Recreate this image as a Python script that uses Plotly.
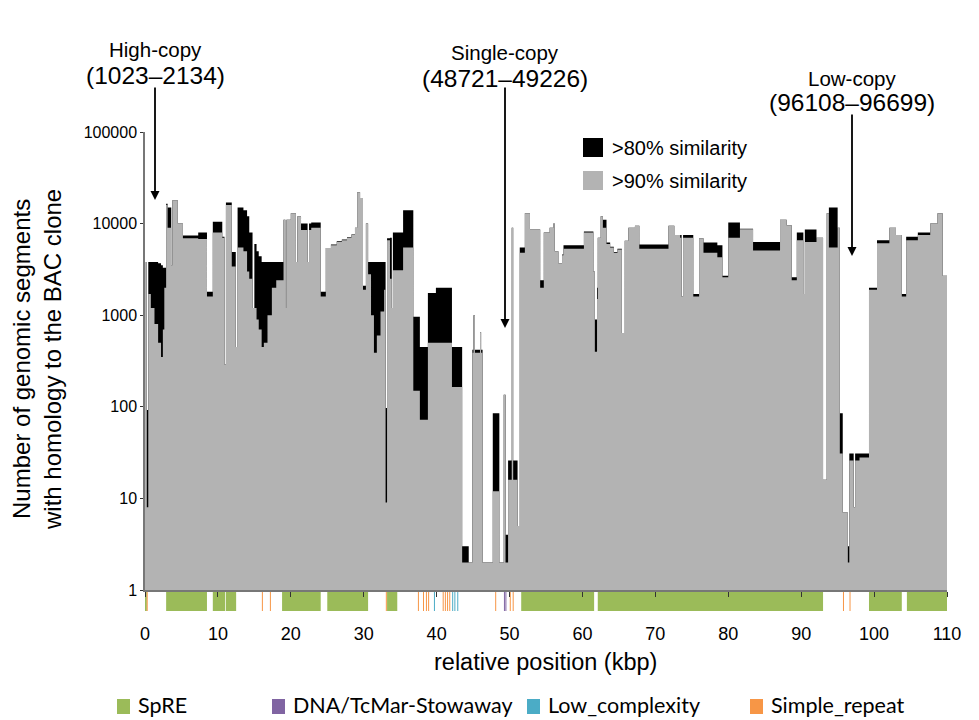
import plotly.graph_objects as go

# ---------------- data ----------------
# start of each step segment (kbp); each segment lasts until the next start
seg_start_kbp = [
    0.0, 0.25, 0.45, 0.8, 1.3, 1.8, 2.2, 2.45, 2.65, 2.9,
    3.1, 3.6, 3.75, 4.5, 5.2, 7.3, 8.5, 9.3, 10.6, 10.9,
    11.1, 11.9, 12.45, 12.7, 13.5, 14.0, 14.3, 14.75, 15.0, 15.3,
    15.6, 16.0, 16.3, 16.8, 17.4, 18.0, 19.0, 19.25, 19.4, 20.0,
    20.7, 20.9, 21.4, 22.3, 22.5, 22.8, 24.1, 24.8, 25.5, 26.3,
    27.0, 27.7, 28.3, 28.8, 29.1, 29.5, 29.9, 30.3, 30.6, 31.0,
    31.4, 31.8, 32.3, 32.8, 33.0, 33.2, 33.6, 33.85, 34.0, 35.4,
    36.8, 37.7, 38.8, 39.9, 42.1, 43.5, 44.4, 44.9, 45.05, 45.25,
    45.95, 46.1, 46.3, 47.7, 48.6, 49.2, 49.45, 49.8, 50.3, 50.5,
    51.1, 51.4, 52.1, 52.8, 54.2, 54.7, 55.5, 56.0, 56.2, 56.7,
    57.2, 57.4, 60.2, 61.5, 61.7, 62.0, 62.1, 62.5, 62.8, 63.3,
    63.8, 64.3, 64.8, 65.4, 65.8, 66.3, 67.2, 67.8, 71.8, 72.6,
    73.4, 73.6, 73.8, 75.2, 76.0, 76.6, 78.5, 79.2, 80.0, 81.6,
    83.4, 87.1, 88.0, 88.7, 89.4, 90.3, 90.5, 92.1, 93.0, 93.5,
    93.8, 95.0, 95.3, 95.7, 96.4, 96.6, 97.2, 97.4, 98.0, 99.3,
    100.4, 102.1, 103.0, 103.8, 104.4, 106.0, 107.7, 108.7, 109.4, 110.0,
]
# number of segments with >90% similarity
gray_90 = [
    3800, 8, 1700, 1200, 800, 500, 350, 700, 2000, 16000,
    9000, 3500, 18000, 10000, 6900, 6800, 1600, 8000, 7000, 290,
    16000, 3400, 450, 5500, 5000, 3000, 2500, 1200, 1200, 900,
    700, 450, 500, 1000, 2000, 2400, 11000, 1200, 11000, 13000,
    3800, 12000, 8500, 3800, 8500, 9000, 1600, 5400, 5800, 6300,
    6600, 7000, 7500, 9000, 22000, 19000, 1900, 10000, 2800, 1000,
    390, 600, 1100, 1900, 9, 6600, 2500, 1200, 3100, 5500,
    150, 72, 500, 500, 165, 2, 2, 390, 1000, 390,
    650, 390, 2, 12, 2, 135, 2, 16, 9000, 16,
    5, 4800, 13000, 8600, 2000, 8000, 9000, 10000, 5000, 3700,
    4500, 5300, 8000, 3000, 400, 1500, 7000, 12000, 9000, 6000,
    5500, 4800, 5200, 640, 6500, 9000, 9500, 5300, 9500, 7500,
    7000, 1600, 7000, 1600, 6900, 4800, 4300, 2600, 7000, 8700,
    5100, 11000, 9600, 2400, 6600, 1700, 6300, 7000, 16, 13000,
    5500, 9000, 31, 7, 2, 26, 8, 26, 28, 1900,
    6100, 9000, 7500, 1600, 6600, 7500, 10000, 13000, 2700, 2700,
]
# number of segments with >80% similarity
black_80 = [
    3800, 92, 3800, 3800, 3800, 3700, 3500, 3300, 3300, 16500,
    15000, 3500, 18000, 10000, 7400, 8000, 1800, 10500, 7200, 290,
    17000, 4900, 450, 15000, 14000, 12000, 8000, 1200, 6000, 5000,
    4400, 3800, 3800, 3800, 3800, 3800, 11000, 1200, 11000, 13000,
    3800, 12000, 10000, 3800, 10000, 10300, 1800, 5400, 5900, 6400,
    6700, 7100, 7600, 9000, 22000, 19000, 2100, 10000, 3800, 3800,
    3800, 3800, 3800, 3800, 97, 6900, 7000, 1200, 8000, 14000,
    960, 450, 1750, 2000, 450, 3, 2, 420, 1000, 420,
    650, 420, 2, 85, 2, 135, 4, 26, 9000, 26,
    5, 5500, 13000, 8600, 2400, 8000, 9000, 10000, 5000, 3700,
    4600, 5800, 8200, 3000, 900, 2000, 7000, 12000, 11000, 6200,
    5600, 4900, 5300, 640, 6500, 9000, 9500, 5900, 9500, 7500,
    7500, 1600, 7500, 1700, 6900, 6200, 5800, 2700, 10300, 8800,
    6300, 11000, 9600, 2600, 8000, 1700, 8600, 7000, 16, 13000,
    15000, 9000, 85, 7, 3, 31, 8, 31, 31, 2000,
    6600, 9000, 7500, 1700, 7200, 8000, 10000, 13000, 2700, 2700,
]

# repeat annotation track (kbp)
spre_start = [0.0, 2.9, 9.3, 11.1, 18.8, 25.0, 33.2, 51.6, 62.1, 99.3, 104.5]
spre_end = [0.25, 8.5, 11.0, 12.5, 24.1, 30.6, 34.6, 61.6, 93.0, 103.8, 110.0]
simple_repeat_pos = [0.3, 16.1, 17.2, 33.1, 37.5, 38.2, 38.6, 38.9, 40.9, 41.2,
                     41.5, 41.8, 48.1, 50.1, 50.5, 95.8, 96.7]
low_complexity_pos = [39.7, 42.2, 42.5, 42.9]
stowaway_pos = [49.3, 49.5]

x_ticks = [0, 10, 20, 30, 40, 50, 60, 70, 80, 90, 100, 110]
y_ticks = [1, 10, 100, 1000, 10000, 100000]
y_tick_text = ["1", "10", "100", "1000", "10000", "100000"]

track_legend = ["SpRE", "DNA/TcMar-Stowaway", "Low_complexity", "Simple_repeat"]
track_colors = ["#9BBB59", "#8064A2", "#4BACC6", "#F79646"]

callout_names = ["High-copy", "Single-copy", "Low-copy"]
callout_ranges = ["(1023–2134)", "(48721–49226)", "(96108–96699)"]

# ---------------- figure ----------------
FONT = "Arial, Liberation Sans, sans-serif"
GRAY = "#b3b3b3"
OFF = 8  # page body margin of the html page

fig = go.Figure()
base = dict(x=[0, 110], y=[1, 1], mode="lines", line=dict(width=0),
            showlegend=False, hoverinfo="skip")
fig.add_trace(go.Scatter(**base))
fig.add_trace(go.Scatter(x=seg_start_kbp, y=black_80, mode="lines",
                         line=dict(width=0, shape="hv", color="black"),
                         fill="tonexty", fillcolor="black",
                         showlegend=False, hoverinfo="skip"))
fig.add_trace(go.Scatter(**base))
fig.add_trace(go.Scatter(x=seg_start_kbp, y=gray_90, mode="lines",
                         line=dict(width=0, shape="hv", color=GRAY),
                         fill="tonexty", fillcolor=GRAY,
                         showlegend=False, hoverinfo="skip"))

# plot area geometry (screen px) for paper conversions
L, R, T, B = 145, 947, 132, 590
PW, PH = R - L, B - T
W, H = 979 - OFF, 720 - OFF


def py(p):
    return (B - p) / PH


def px(p):
    return (p - L) / PW


shapes = []
ty0, ty1 = py(611), py(591)
for s, e in zip(spre_start, spre_end):
    shapes.append(dict(type="rect", xref="x", yref="paper", x0=s, x1=e, y0=ty0, y1=ty1,
                       fillcolor=track_colors[0], line=dict(width=0), layer="below"))
for plist, col in ((stowaway_pos, track_colors[1]), (low_complexity_pos, track_colors[2]),
                   (simple_repeat_pos, track_colors[3])):
    for p in plist:
        shapes.append(dict(type="line", xref="x", yref="paper", x0=p, x1=p, y0=ty0, y1=ty1,
                           line=dict(color=col, width=1), layer="below"))

annotations = []
# top similarity legend
for i, (lab, col) in enumerate(((">80% similarity", "black"), (">90% similarity", GRAY))):
    y0 = 138 + i * 33
    shapes.append(dict(type="rect", xref="paper", yref="paper", x0=px(583), x1=px(603),
                       y0=py(y0 + 19), y1=py(y0), fillcolor=col, line=dict(width=0)))
    annotations.append(dict(xref="paper", yref="paper", x=px(610), y=py(y0 + 10),
                            xanchor="left", yanchor="middle", showarrow=False,
                            text=lab, font=dict(family=FONT, size=20, color="black")))

# bottom repeat legend
leg_x = [117, 272, 527, 750]
for lab, col, lx in zip(track_legend, track_colors, leg_x):
    shapes.append(dict(type="rect", xref="paper", yref="paper", x0=px(lx), x1=px(lx + 13),
                       y0=py(714), y1=py(699), fillcolor=col, line=dict(width=0)))
    annotations.append(dict(xref="paper", yref="paper", x=px(lx + 19), y=py(705),
                            xanchor="left", yanchor="middle", showarrow=False,
                            text=lab, font=dict(family="Lato, Open Sans, sans-serif", size=21.5,
                                                color="black")))

# callouts with arrows: (center x, name y, range y, arrow tail y, arrow tip y)
call_geom = [(155, 50, 76, 86, 200), (505, 52, 78, 86, 328), (852, 78, 103, 113, 256)]
for name, rng, (cx, ny, ry, tail, tip) in zip(callout_names, callout_ranges, call_geom):
    annotations.append(dict(xref="paper", yref="paper", x=px(cx), y=py(ny),
                            xanchor="center", yanchor="middle", showarrow=False,
                            text=name, font=dict(family=FONT, size=20.5, color="black")))
    annotations.append(dict(xref="paper", yref="paper", x=px(cx), y=py(ry),
                            xanchor="center", yanchor="middle", showarrow=False,
                            text=rng, font=dict(family=FONT, size=24.5, color="black")))
    annotations.append(dict(xref="paper", yref="paper", x=px(cx), y=py(tip),
                            ax=0, ay=-(tip - tail), showarrow=True, arrowhead=2,
                            arrowsize=1, arrowwidth=1.8, arrowcolor="black", text=""))

# axis titles
annotations.append(dict(xref="paper", yref="paper", x=px(545), y=py(662),
                        xanchor="center", yanchor="middle", showarrow=False,
                        text="relative position (kbp)",
                        font=dict(family=FONT, size=23.5, color="black")))
annotations.append(dict(xref="paper", yref="paper", x=px(37), y=py(360),
                        xanchor="center", yanchor="middle", showarrow=False, textangle=-90,
                        text="Number of genomic segments<br>with homology to the BAC clone",
                        font=dict(family=FONT, size=24, color="black")))

fig.update_layout(
    width=W, height=H,
    margin=dict(l=L - OFF, r=979 - R, t=T - OFF, b=720 - B),
    paper_bgcolor="white", plot_bgcolor="white",
    showlegend=False, hovermode=False,
    shapes=shapes, annotations=annotations,
    font=dict(family=FONT, color="black"),
    xaxis=dict(range=[0, 110], tickvals=x_ticks, ticks="outside", ticklen=5,
               tickcolor="#333", showline=True, linecolor="#777", linewidth=1.5,
               showgrid=False, zeroline=False, tickfont=dict(size=18, family=FONT),
               ticklabelstandoff=22),
    yaxis=dict(type="log", range=[0, 5], tickvals=y_ticks, ticktext=y_tick_text,
               ticks="outside", ticklen=3, tickcolor="#333", showline=True,
               linecolor="#777", linewidth=1.5, showgrid=False, zeroline=False,
               tickfont=dict(size=16, family=FONT)),
)

fig.write_html("out.html")
